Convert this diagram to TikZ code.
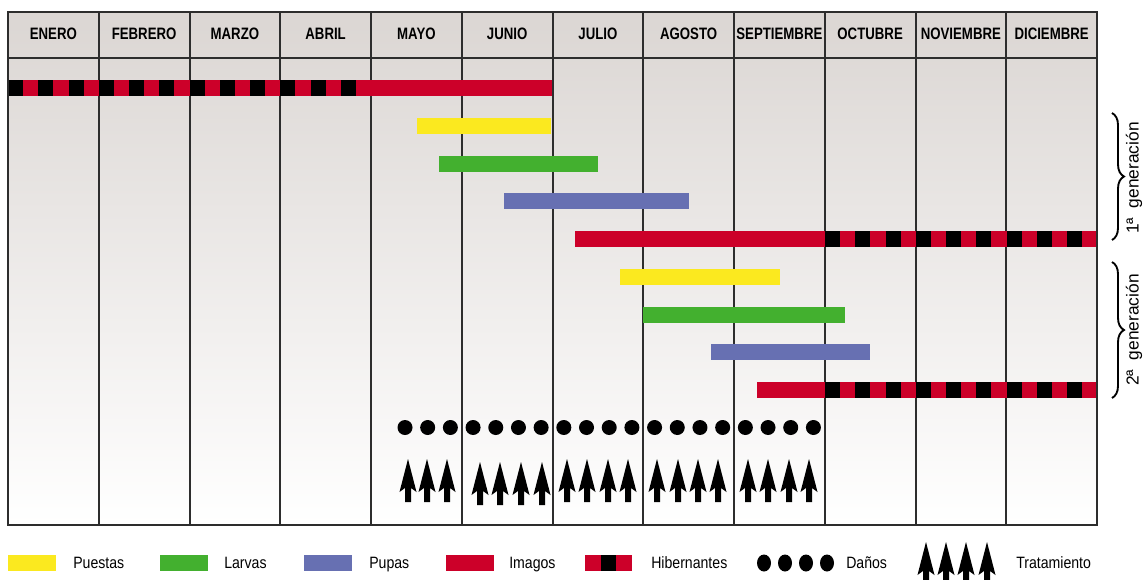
\documentclass[tikz,border=0pt]{standalone}
\usepackage{fontspec}
\setmainfont{Liberation Sans}
\newfontfamily\mesfont[FakeStretch=0.8]{Liberation Sans}
\newfontfamily\leyfont[FakeStretch=0.86]{Liberation Sans}
\usetikzlibrary{decorations.pathreplacing}

\definecolor{puesta}{RGB}{251,233,31}
\definecolor{larva}{RGB}{67,176,47}
\definecolor{pupa}{RGB}{103,112,178}
\definecolor{imago}{RGB}{204,0,41}
\definecolor{rejilla}{RGB}{45,45,45}
\definecolor{fondo}{RGB}{219,214,211}

\tikzset{
  rejilla/.style={draw=rejilla, line width=1.5pt},
  mes/.style={inner sep=0.75pt, font=\mesfont\bfseries\fontsize{12.4}{14}\selectfont},
  leyenda/.style={anchor=base west, inner sep=0.75pt, font=\leyfont\fontsize{12.3}{14}\selectfont},
  generacion/.style={rotate=90, inner sep=0.75pt, font=\fontsize{13}{15}\selectfont},
  llave/.style={decorate, decoration={brace, amplitude=9pt}, line width=1.4pt},
}

% casillas negras de los hibernantes: x inicial, y, numero de casillas
\newcommand{\hibcasillas}[3]{%
  \foreach \j in {1,...,#3}
    {\fill[black] (#1+30.25*\j-30.25,#2) rectangle ++(15.125,16);}}
% flecha de tratamiento: x, y de la punta
\newcommand{\tratam}[2]{%
  \fill[black] (#1,#2) -- (#1+8.5,#2+33) -- (#1+3,#2+29) -- (#1+3,#2+43)
    -- (#1-3,#2+43) -- (#1-3,#2+29) -- (#1-8.5,#2+33) -- cycle;}

\begin{document}
\begin{tikzpicture}[x=0.75pt,y=0.75pt,yscale=-1,xscale=1]
\useasboundingbox (0,0) rectangle (1143,579);

% Fondo
\shade[top color=fondo, bottom color=white] (8,12) rectangle (1097,525);

% Rejilla
\foreach \i in {1,...,11}
  \draw[rejilla] (8+90.75*\i,12) -- (8+90.75*\i,525);
\draw[rejilla] (8,58) -- (1097,58);

% Meses
\foreach \m [count=\i] in {ENERO,FEBRERO,MARZO,ABRIL,MAYO,JUNIO,JULIO,AGOSTO,SEPTIEMBRE,OCTUBRE,NOVIEMBRE,DICIEMBRE}
  \node[mes] (mes\i) at (8+90.75*\i-45.375,34) {\m};

% Barras
% Hibernantes e imagos
\fill[imago] (8,80) rectangle (552,96);
\hibcasillas{8}{80}{12}
% 1a generacion
\fill[puesta] (417,117.75) rectangle (551,133.75);
\fill[larva] (439,155.5) rectangle (598,171.5);
\fill[pupa] (504,193.25) rectangle (689,209.25);
\fill[imago] (575,231) rectangle (1097,247);
\hibcasillas{825}{231}{9}
% 2a generacion
\fill[puesta] (620,268.75) rectangle (780,284.75);
\fill[larva] (643,306.5) rectangle (845,322.5);
\fill[pupa] (711,344.25) rectangle (870,360.25);
\fill[imago] (757,382) rectangle (1097,398);
\hibcasillas{825}{382}{9}

% Danos
\foreach \k in {0,...,18}
  \fill[black] (405+22.69*\k,427.5) circle (7.5);

% Tratamientos
\foreach \x in {408,427,447,567,587,608,628,657,678,698,718,748,768,789,809}
  {\tratam{\x}{459}}
\foreach \x in {480,500,521,542}
  {\tratam{\x}{462}}

% Marco
\draw[rejilla] (8,12) rectangle (1097,525);

% Llaves
\draw[llave] (1112,113) -- (1112,240);
\draw[llave] (1112,262) -- (1112,398);
\node[generacion] (gen1) at (1134,178) {1ª\ \ generación};
\node[generacion] (gen2) at (1134,330) {2ª\ \ generación};

% Leyenda
\fill[puesta] (8,555) rectangle (56,571);
\node[leyenda] (lpuestas) at (72,568) {Puestas};
\fill[larva] (160,555) rectangle (208,571);
\node[leyenda] (llarvas) at (223,568) {Larvas};
\fill[pupa] (304,555) rectangle (352,571);
\node[leyenda] (lpupas) at (368,568) {Pupas};
\fill[imago] (446,555) rectangle (494,571);
\node[leyenda] (limagos) at (508,568) {Imagos};
\fill[imago] (585,555) rectangle (632,571);
\fill[black] (601,555) rectangle (616,571);
\node[leyenda] (lhiber) at (650,568) {Hibernantes};
\foreach \x in {764,785,806,827}
  {\fill[black] (\x,563) ellipse (7 and 8.5);}
\node[leyenda] (ldanos) at (845,568) {Daños};
\foreach \x in {926,946,966,987}
  {\tratam{\x}{542}}
\node[leyenda] (ltratam) at (1015,568) {Tratamiento};

\end{tikzpicture}
\end{document}
